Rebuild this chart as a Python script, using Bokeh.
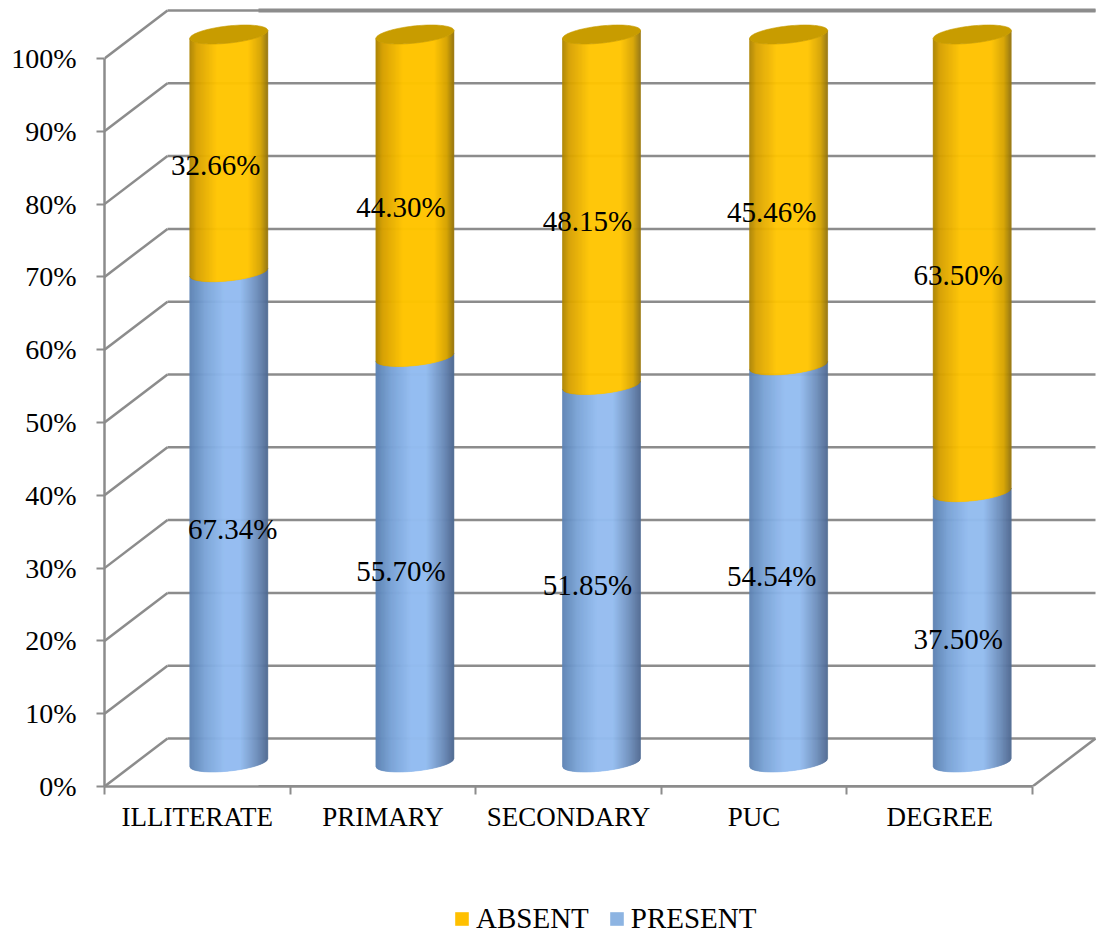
import numpy as np
from bokeh.core.properties import value
from bokeh.embed import file_html
from bokeh.layouts import column
from bokeh.models import FixedTicker, Legend, LegendItem, LinearAxis, Range1d, PrintfTickFormatter
from bokeh.plotting import figure
from bokeh.resources import INLINE

# Survey shares by education level
categories = ["ILLITERATE", "PRIMARY", "SECONDARY", "PUC", "DEGREE"]
present = [67.34, 55.70, 51.85, 54.54, 37.50]
absent = [32.66, 44.30, 48.15, 45.46, 63.50]
y_ticks = [0, 10, 20, 30, 40, 50, 60, 70, 80, 90, 100]

# Layout of the pseudo-3D scene, in screen pixels
W, H = 1096, 935
LEGEND_H = 50
LEFT, BOTTOM_PAD = 104, 99
CAT_PX = 185.6
PCT_PX = 7.28
DEPTH_X, DEPTH_Y = 63 / CAT_PX, 48 / PCT_PX
CYL_A, CYL_B, CYL_TILT = 39 / CAT_PX, 8.6 / PCT_PX, 4 / PCT_PX
bar_nudge = [0, 0.5, 1.5, 3, 1]
present_label_dx = [4, -14, -14, -17, -14]
absent_label_dx = [-13, -14, -14, -17, -14]
LABEL_DROP = 1.6

GREY = "#8c8c8c"
SERIF = "Liberation Serif"
INK = "#000000"

ORANGE_STOPS = [(-1, (170, 130, 0)), (-0.82, (214, 160, 0)), (-0.3, (255, 196, 0)),
                (0.5, (255, 196, 0)), (0.82, (214, 164, 0)), (1, (150, 118, 14))]
BLUE_STOPS = [(-1, (92, 130, 178)), (-0.6, (122, 163, 214)), (-0.1, (147, 188, 240)),
              (0.3, (147, 188, 240)), (0.72, (110, 143, 188)), (1, (80, 106, 146))]


def shade(stops, t):
    ts = [s[0] for s in stops]
    rgb = [int(round(np.interp(t, ts, [s[1][i] for s in stops]))) for i in range(3)]
    return "#%02x%02x%02x" % tuple(rgb)


p = figure(
    width=W, height=H - LEGEND_H, output_backend="svg", toolbar_location=None,
    x_range=Range1d(0, (W - LEFT) / CAT_PX),
    y_range=Range1d(0, (H - LEGEND_H - BOTTOM_PAD) / PCT_PX),
    x_axis_type=None, y_axis_type=None,
    min_border_left=LEFT, min_border_right=0, min_border_top=0, min_border_bottom=BOTTOM_PAD,
)
p.outline_line_color = None
p.grid.visible = False
p.background_fill_color = "white"

# Value axis along the front-left edge
yaxis = LinearAxis(
    ticker=FixedTicker(ticks=y_ticks),
    formatter=PrintfTickFormatter(format="%d%%"),
    bounds=(0, 100),
    axis_line_color=GREY, axis_line_width=2.5,
    major_tick_line_color=GREY, major_tick_line_width=2,
    major_tick_out=8, major_tick_in=0, minor_tick_out=0, minor_tick_in=0,
    major_label_text_font=SERIF, major_label_text_font_size="28px",
    major_label_text_color=INK, major_label_standoff=20,
)
p.add_layout(yaxis, "left")

# Category axis: labels mid-slot, tick marks on the slot boundaries
slots = list(range(len(categories) + 1))
centres = [i + 0.5 for i in range(len(categories))]
xaxis = LinearAxis(
    ticker=FixedTicker(ticks=centres, minor_ticks=slots),
    major_label_overrides={c: n for c, n in zip(centres, categories)},
    bounds=(0, len(categories)),
    axis_line_color=GREY, axis_line_width=2.5,
    major_tick_out=0, major_tick_in=0, major_tick_line_color=None,
    minor_tick_out=8, minor_tick_in=0, minor_tick_line_color=GREY, minor_tick_line_width=2,
    major_label_text_font=SERIF, major_label_text_font_size="27px",
    major_label_text_color=INK, major_label_standoff=7,
)
p.add_layout(xaxis, "below")

# Back wall and left wall grid lines
n = len(categories)
back_right = n + DEPTH_X
for v in y_ticks:
    p.line([0, DEPTH_X], [v, v + DEPTH_Y], line_color=GREY, line_width=2.5)
    p.line([DEPTH_X, back_right], [v + DEPTH_Y, v + DEPTH_Y], line_color=GREY, line_width=2.5)
p.line([n, back_right], [0, DEPTH_Y], line_color=GREY, line_width=2.5)

# Heavier stretches of the top and floor edges
heavy_from = (258 - LEFT) / CAT_PX
p.line([heavy_from, back_right], [100 + DEPTH_Y, 100 + DEPTH_Y], line_color=GREY, line_width=4)
p.line([heavy_from, n], [0, 0], line_color=GREY, line_width=3)


def arc_low(t):
    # lower rim of the tilted ellipse, relative to its centre
    return CYL_TILT * t - CYL_B * np.sqrt(np.clip(1 - t * t, 0, 1))


# The chart is a 100% stack, so each column is scaled to its own total
totals = [a + b for a, b in zip(present, absent)]
present_share = [100 * a / t for a, t in zip(present, totals)]
absent_share = [100 * b / t for b, t in zip(absent, totals)]

# Cylinders: narrow shaded strips bounded by the elliptical rims
STRIPS = 78
edges = np.linspace(-1, 1, STRIPS + 1)
xs, ys, cols = [], [], []
cap_xs, cap_ys = [], []
for i in range(n):
    cx = i + 0.5 + DEPTH_X / 2 + bar_nudge[i] / CAT_PX
    base = DEPTH_Y / 2
    split = base + present_share[i]
    top = split + absent_share[i]
    for low, high, stops in ((base, split, BLUE_STOPS), (split, top, ORANGE_STOPS)):
        for a, b in zip(edges[:-1], edges[1:]):
            xs.append([cx + a * CYL_A, cx + b * CYL_A, cx + b * CYL_A, cx + a * CYL_A])
            ys.append([low + arc_low(a), low + arc_low(b), high + arc_low(b), high + arc_low(a)])
            cols.append(shade(stops, (a + b) / 2))
    theta = np.linspace(0, 2 * np.pi, 90)
    cap_xs.append(list(cx + CYL_A * np.cos(theta)))
    cap_ys.append(list(top + CYL_TILT * np.cos(theta) + CYL_B * np.sin(theta)))

p.patches(xs, ys, fill_color=cols, line_color=cols, line_width=0.6)
p.patches(cap_xs, cap_ys, fill_color="#c89c00", line_color="#c89c00", line_width=0.6)

# Value labels
label_font = dict(text_font=value(SERIF), text_font_size={"value": "29px"}, text_color=INK,
                  text_align="center", text_baseline="middle")
bar_x = [i + 0.5 + DEPTH_X / 2 + bar_nudge[i] / CAT_PX for i in range(n)]
p.text(bar_x, [DEPTH_Y / 2 + v / 2 - LABEL_DROP for v in present_share],
       text=["%.2f%%" % v for v in present], x_offset=present_label_dx, **label_font)
p.text(bar_x, [DEPTH_Y / 2 + a + b / 2 - LABEL_DROP for a, b in zip(present_share, absent_share)],
       text=["%.2f%%" % v for v in absent], x_offset=absent_label_dx, **label_font)

# Legend strip under the chart; its swatch renderers sit outside the visible range
q = figure(
    width=W, height=LEGEND_H, output_backend="svg", toolbar_location=None,
    x_range=Range1d(0, 1), y_range=Range1d(0, 1),
    x_axis_type=None, y_axis_type=None,
    min_border_left=0, min_border_right=0, min_border_top=0, min_border_bottom=0,
)
q.outline_line_color = None
q.grid.visible = False
swatch_absent = q.quad(left=[-3], right=[-2], bottom=[0], top=[1], fill_color="#ffc000", line_color=None)
swatch_present = q.quad(left=[-3], right=[-2], bottom=[0], top=[1], fill_color="#8db4e2", line_color=None)
legend = Legend(
    items=[LegendItem(label="ABSENT", renderers=[swatch_absent]),
           LegendItem(label="PRESENT", renderers=[swatch_present])],
    orientation="horizontal", location=(349, 0),
    border_line_color=None, background_fill_alpha=0,
    glyph_width=17, glyph_height=17, label_standoff=6, spacing=19,
    margin=0, padding=0,
    label_text_font=SERIF, label_text_font_size="29px", label_text_color=INK,
)
q.add_layout(legend, "center")

page = column(p, q, spacing=0)
open("out.html", "w").write(file_html(page, INLINE))
